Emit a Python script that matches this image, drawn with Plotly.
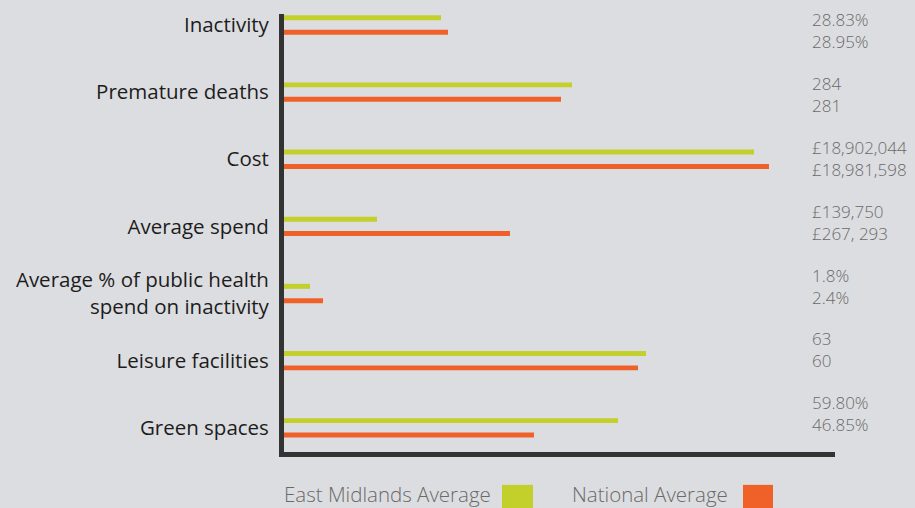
import plotly.graph_objects as go

categories = ["Inactivity", "Premature deaths", "Cost", "Average spend",
              "Average % of public health<br>spend on inactivity",
              "Leisure facilities", "Green spaces"]
em_labels = ["28.83%", "284", "£18,902,044", "£139,750", "1.8%", "63", "59.80%"]
nat_labels = ["28.95%", "281", "£18,981,598", "£267, 293", "2.4%", "60", "46.85%"]
# relative bar lengths as drawn in the graphic (not to a common scale)
em_length = [157, 288, 470, 93, 26, 362, 334]
nat_length = [164, 277, 485, 226, 39, 354, 250]
series_names = ["East Midlands Average", "National Average"]

GREEN = "#c3cf2b"
ORANGE = "#f0612a"
BG = "#dcdde0"
TXT = "#1c1c1c"
GREY = "#6a6a6a"
FONT = "Open Sans"

PLOT_W = 551

fig = go.Figure()
fig.add_trace(go.Bar(y=categories, x=em_length, orientation="h", name=series_names[0],
                     marker=dict(color=GREEN, line=dict(width=0)), hoverinfo="skip"))
fig.add_trace(go.Bar(y=categories, x=nat_length, orientation="h", name=series_names[1],
                     marker=dict(color=ORANGE, line=dict(width=0)), hoverinfo="skip"))

annotations = []
for i, (a, b) in enumerate(zip(em_labels, nat_labels)):
    annotations.append(dict(x=(810 - 284) / PLOT_W, xref="paper", y=i, yref="y2", text=a + "<br>" + b,
                            showarrow=False, xanchor="left", yanchor="middle", align="left",
                            font=dict(family=FONT, size=17, color=GREY, weight=300)))

# legend built as text + swatch (swatch sits to the right of the text)
annotations.append(dict(x=-0.004, xref="paper", y=-0.096, yref="paper", text=series_names[0],
                        showarrow=False, xanchor="left", yanchor="middle",
                        font=dict(family=FONT, size=20.5, color=GREY, weight=300)))
annotations.append(dict(x=(570 - 284) / PLOT_W, xref="paper", y=-0.096, yref="paper", text=series_names[1],
                        showarrow=False, xanchor="left", yanchor="middle",
                        font=dict(family=FONT, size=20.5, color=GREY, weight=300)))
shapes = [
    dict(type="rect", xref="paper", yref="paper", x0=(502 - 284) / PLOT_W, x1=(533 - 284) / PLOT_W,
         y0=-0.075, y1=-0.13, fillcolor=GREEN, line=dict(width=0)),
    dict(type="rect", xref="paper", yref="paper", x0=(743 - 284) / PLOT_W, x1=(773 - 284) / PLOT_W,
         y0=-0.075, y1=-0.13, fillcolor=ORANGE, line=dict(width=0)),
]

fig.update_layout(
    width=915, height=508,
    margin=dict(l=284, r=80, t=14, b=56, autoexpand=False),
    paper_bgcolor=BG, plot_bgcolor=BG,
    barmode="group", bargap=0.571, bargroupgap=0.655,
    showlegend=False,
    font=dict(family=FONT, color=TXT),
    xaxis=dict(range=[0, PLOT_W], showgrid=False, zeroline=False, showticklabels=False,
               ticks="", showline=True, linecolor="#333333", linewidth=5, fixedrange=True,
               automargin=False),
    yaxis=dict(type="category", categoryorder="array", categoryarray=categories,
               range=[6.36, -0.163], showgrid=False, zeroline=False, ticks="",
               showline=True, linecolor="#333333", linewidth=5, automargin=False,
               tickfont=dict(family=FONT, size=20.5, color=TXT), ticklabelstandoff=6),
    yaxis2=dict(overlaying="y", range=[6.60, -0.2646], visible=False),
    annotations=annotations,
    shapes=shapes,
)

fig.write_html("out.html")
